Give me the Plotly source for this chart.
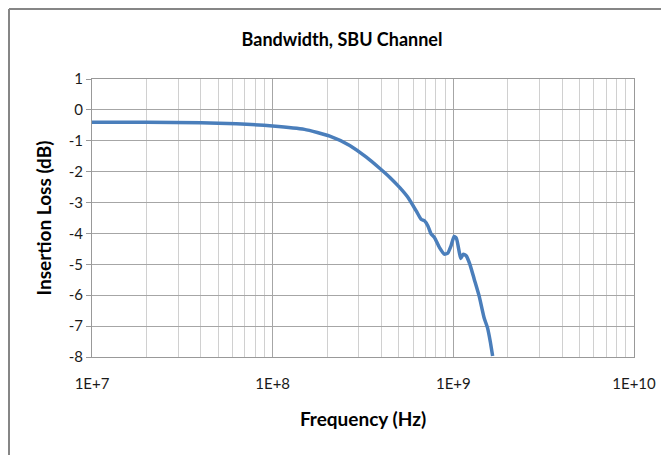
import plotly.graph_objects as go

# Data
freq_hz = [1.0e7, 2.0e7, 4.0e7, 6.3e7, 1.0e8, 1.5e8, 2.07e8, 2.67e8, 3.3e8, 3.91e8,
           4.44e8, 5.04e8, 5.6e8, 6.23e8, 6.63e8, 6.92e8, 7.22e8, 7.54e8, 7.86e8,
           8.37e8, 8.92e8, 9.31e8, 9.71e8, 1.01e9, 1.04e9, 1.08e9, 1.10e9, 1.135e9,
           1.18e9, 1.235e9, 1.305e9, 1.39e9, 1.48e9, 1.545e9, 1.6e9, 1.65e9]
loss_db = [-0.40, -0.40, -0.42, -0.45, -0.52, -0.63, -0.85, -1.15, -1.53, -1.89,
           -2.18, -2.51, -2.83, -3.27, -3.54, -3.59, -3.75, -4.02, -4.13,
           -4.45, -4.67, -4.64, -4.40, -4.10, -4.16, -4.62, -4.81, -4.67,
           -4.73, -5.00, -5.48, -6.03, -6.73, -7.05, -7.49, -7.97]

x_tickvals = [1e7, 1e8, 1e9, 1e10]
x_ticktext = ["1E+7", "1E+8", "1E+9", "1E+10"]
y_tickvals = [1, 0, -1, -2, -3, -4, -5, -6, -7, -8]
y_ticktext = ["1", "0", "-1", "-2", "-3", "-4", "-5", "-6", "-7", "-8"]
minor_vals = [m * 10 ** e for e in (7, 8, 9) for m in range(2, 10)]

title_text = "Bandwidth, SBU Channel"
x_title = "Frequency (Hz)"
y_title = "Insertion Loss (dB)"

FONT = "Lato, 'Open Sans', sans-serif"

W, H = 661, 447          # page body adds an 8px offset
L, R, T, B = 84, 35, 71, 98
PW, PH = W - L - R, H - T - B

fig = go.Figure()
fig.add_trace(go.Scatter(
    x=freq_hz, y=loss_db, mode="lines",
    line=dict(color="#4A7EBB", width=3.5, shape="spline", smoothing=0.5),
    showlegend=False, hoverinfo="skip",
))

fig.update_layout(
    width=W, height=H,
    margin=dict(l=L, r=R, t=T, b=B, autoexpand=False),
    paper_bgcolor="white", plot_bgcolor="white",
    font=dict(family=FONT, color="#000000", size=15),
    title=dict(text=title_text, x=334 / W, xanchor="center", xref="container",
               y=1 - 32 / H, yanchor="middle", yref="container",
               font=dict(family=FONT, size=18, color="#000000", weight="bold")),
    xaxis=dict(
        type="log", range=[7, 10], automargin=False,
        tickvals=x_tickvals, ticktext=x_ticktext,
        showgrid=True, gridcolor="#A6A6A6", gridwidth=1,
        minor=dict(tickvals=minor_vals, showgrid=True, gridcolor="#D0D0D0", gridwidth=1),
        showline=True, linecolor="#999999", linewidth=1, mirror=True,
        ticks="", ticklabelstandoff=13,
        tickfont=dict(family=FONT, size=15, color="#1A1A1A"),
        title=dict(text=x_title, standoff=21,
                   font=dict(family=FONT, size=19, color="#000000", weight="bold")),
        zeroline=False,
    ),
    yaxis=dict(
        range=[-8, 1], tickvals=y_tickvals, ticktext=y_ticktext, automargin=False,
        showgrid=True, gridcolor="#A6A6A6", gridwidth=1,
        showline=True, linecolor="#999999", linewidth=1, mirror=True,
        ticks="outside", ticklen=5, tickcolor="#999999",
        tickfont=dict(family=FONT, size=15, color="#1A1A1A"),
        title=dict(text=y_title, standoff=12,
                   font=dict(family=FONT, size=19, color="#000000", weight="bold")),
        zeroline=False,
    ),
)

# chart-area border (left and top visible)
bx = (1 - L) / PW
by = 1 + (T - 1) / PH
fig.add_shape(type="line", xref="paper", yref="paper",
              x0=bx, x1=bx, y0=-0.5, y1=by,
              line=dict(color="#868686", width=2))
fig.add_shape(type="line", xref="paper", yref="paper",
              x0=bx, x1=1.3, y0=by, y1=by,
              line=dict(color="#868686", width=2))

fig.write_html("out.html")
